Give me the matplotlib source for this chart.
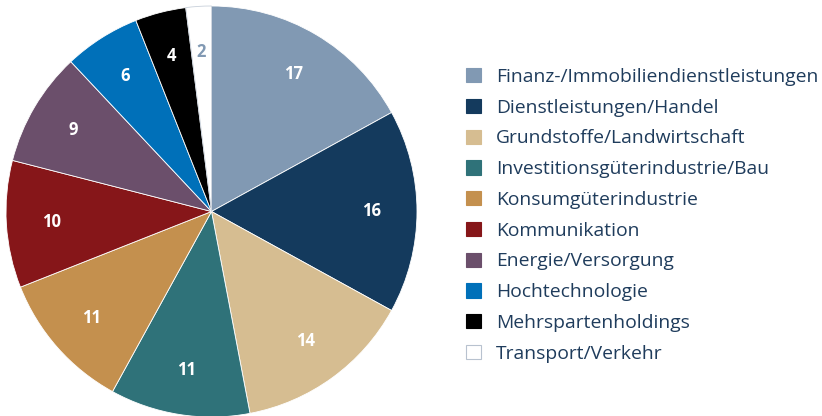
import matplotlib.pyplot as plt
from matplotlib.patches import Patch

sectors = [
    "Finanz-/Immobiliendienstleistungen",
    "Dienstleistungen/Handel",
    "Grundstoffe/Landwirtschaft",
    "Investitionsgüterindustrie/Bau",
    "Konsumgüterindustrie",
    "Kommunikation",
    "Energie/Versorgung",
    "Hochtechnologie",
    "Mehrspartenholdings",
    "Transport/Verkehr",
]
shares = [17, 16, 14, 11, 11, 10, 9, 6, 4, 2]
colors = ["#8199b3", "#143a5d", "#d6bd91", "#2f7279", "#c4904e",
          "#861619", "#6b4f6b", "#0070b9", "#000000", "#ffffff"]
label_colors = ["white"] * 9 + ["#8199b3"]
text_color = "#1f3c5c"

plt.rcParams["font.family"] = ["Open Sans", "DejaVu Sans"]

fig = plt.figure(figsize=(8.22, 4.16), dpi=100)
ax = fig.add_axes([6 / 822, -1 / 416, 411 / 822, 411 / 416])

wedges, texts = ax.pie(shares, colors=colors, startangle=90, counterclock=False,
                       labels=[str(v) for v in shares], labeldistance=0.78,
                       wedgeprops=dict(edgecolor="white", linewidth=0.6),
                       textprops=dict(fontsize=12, fontweight="bold"))
for t, c in zip(texts, label_colors):
    t.set_color(c)
    t.set_ha("center")
    t.set_va("center")
wedges[-1].set_edgecolor("#c8d0da")
wedges[-1].set_linewidth(0.6)
ax.set_xlim(-1, 1)
ax.set_ylim(-1, 1)
ax.set_aspect("equal")

handles = [Patch(facecolor=c, edgecolor=("#b8c2cf" if c == "#ffffff" else c), linewidth=0.8)
           for c in colors]
fig.legend(handles, sectors, loc="upper left", bbox_to_anchor=(466 / 822, 1 - 68 / 416),
           frameon=False, fontsize=13.9, labelcolor=text_color,
           handlelength=0.77, handleheight=0.77, handletextpad=0.77,
           labelspacing=0.66, borderaxespad=0, borderpad=0)

fig.savefig("out.png", dpi=100)
